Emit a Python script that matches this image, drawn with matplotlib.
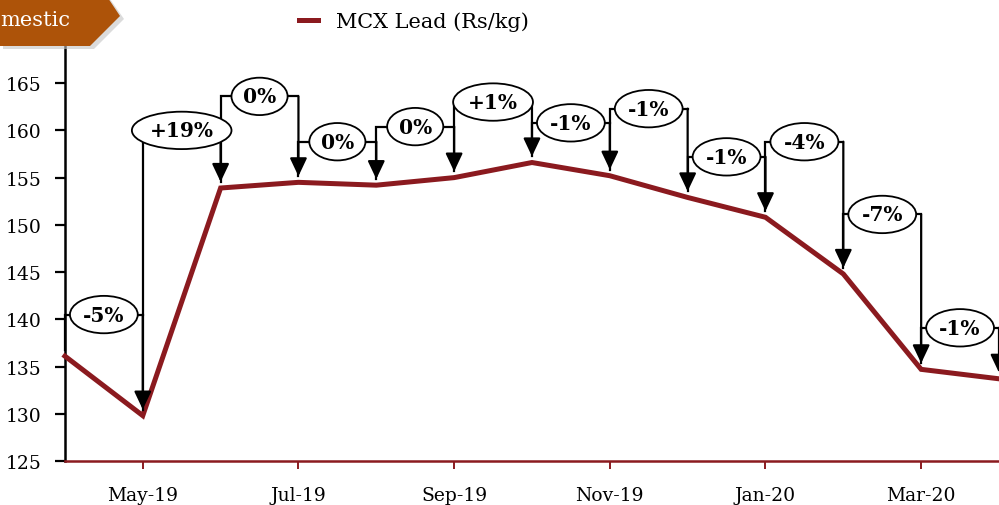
import matplotlib
matplotlib.use("Agg")
from matplotlib import pyplot as plt
from matplotlib.patches import Polygon

months = ["Apr-19", "May-19", "Jun-19", "Jul-19", "Aug-19", "Sep-19", "Oct-19",
          "Nov-19", "Dec-19", "Jan-20", "Feb-20", "Mar-20", "Apr-20"]
lead = [136.1, 129.8, 153.9, 154.5, 154.2, 155.0, 156.6,
        155.2, 152.9, 150.8, 144.8, 134.7, 133.7]
change_labels = ["-5%", "+19%", "0%", "0%", "0%", "+1%", "-1%",
                 "-1%", "-1%", "-4%", "-7%", "-1%"]
bracket_levels = [140.5, 160.0, 163.6, 158.8, 160.4, 163.0, 160.8,
                  162.3, 157.2, 158.8, 151.1, 139.1]
yticks = [125, 130, 135, 140, 145, 150, 155, 160, 165]

red = "#8b1a1f"
serif = "DejaVu Serif"
plt.rcParams["font.family"] = serif

fig = plt.figure(figsize=(9.99, 5.06), dpi=100)
ax = fig.add_axes([0.065, 0.087, 0.935, 0.84])

x = list(range(len(months)))
ax.plot(x, lead, color=red, linewidth=3.6, solid_joinstyle="miter",
        label="MCX Lead (Rs/kg)", zorder=3, clip_on=False)

# percentage change brackets
gap = 0.65
for i, (lab, lvl) in enumerate(zip(change_labels, bracket_levels)):
    x0, x1 = i, i + 1
    ax.plot([x0, x0, x1], [lead[i] + gap, lvl, lvl], color="black",
            linewidth=1.6, zorder=4, clip_on=False, solid_joinstyle="miter")
    ax.annotate("", xy=(x1, lead[i + 1] + gap), xytext=(x1, lvl),
                arrowprops=dict(arrowstyle="-|>,head_length=0.55,head_width=0.26",
                                mutation_scale=20, color="black", lw=1.6,
                                shrinkA=0, shrinkB=0),
                zorder=4, annotation_clip=False)
    ax.text((x0 + x1) / 2, lvl, lab, ha="center", va="center",
            fontsize=14.5, fontweight="bold", zorder=6, clip_on=False,
            bbox=dict(boxstyle="ellipse,pad=0.16", fc="white", ec="black", lw=1.3))

ax.set_xlim(0, 12)
ax.set_ylim(125, 170)
ax.set_yticks(yticks)
ax.set_xticks(x[1::2])
ax.set_xticklabels(months[1::2])

for s in ["top", "right"]:
    ax.spines[s].set_visible(False)
ax.spines["left"].set_linewidth(1.8)
ax.spines["left"].set_color("black")
ax.spines["bottom"].set_linewidth(1.8)
ax.spines["bottom"].set_color(red)
ax.tick_params(axis="y", length=7, width=1.6, pad=10, labelsize=13.5, color="black")
ax.tick_params(axis="x", length=6, width=1.4, pad=12, labelsize=13.5, color=red)

fig.legend(loc="center", bbox_to_anchor=(414 / 999, 1 - 22 / 506), frameon=False,
           fontsize=15, handlelength=0.9, handletextpad=0.9)

# section banner
over = fig.add_axes([0, 0, 1, 1], zorder=10)
over.set_xlim(0, 999)
over.set_ylim(506, 0)
over.axis("off")
over.add_patch(Polygon([(3, -10), (103, -10), (124, 20), (94, 50), (3, 50)],
                       closed=True, fc="#c4c4c4", ec="none", alpha=0.6))
over.add_patch(Polygon([(0, -13), (100, -13), (120, 17), (90, 47), (0, 47)],
                       closed=True, fc="#ad5309", ec="none"))
over.text(0, 20, "mestic", color="white", fontsize=15, ha="left", va="center")

fig.savefig("out.png", dpi=100)
